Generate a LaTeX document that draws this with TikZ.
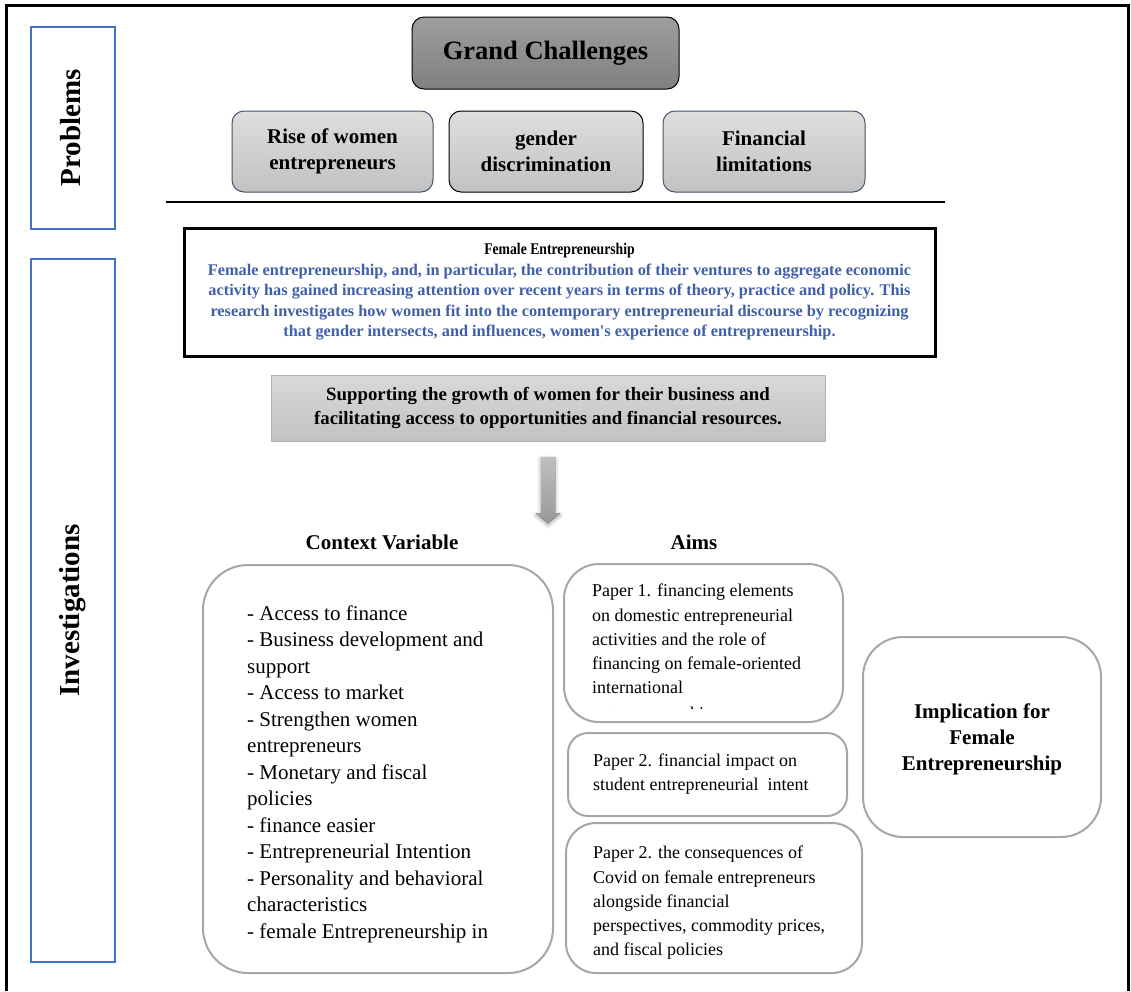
\documentclass[tikz,border=0pt]{standalone}
\usepackage{fontspec}
\setmainfont{Liberation Serif}
% same family without the TeX quote mapping, for a straight apostrophe
\newfontfamily\straightserif{Liberation Serif}
\usetikzlibrary{shadows.blur}

\definecolor{frameblue}{HTML}{4472C4}
\definecolor{textblue}{HTML}{3F5FA8}
\definecolor{roundgray}{HTML}{A6A6A6}
\definecolor{slateedge}{HTML}{44546A}

\tikzset{
  sidebox/.style={draw=frameblue, line width=2, rotate=90, inner sep=0,
    font=\fontsize{29}{34}\selectfont\bfseries},
  grandbox/.style={draw=black, line width=1, rounded corners=12,
    top color=black!38, bottom color=black!50, inner sep=0,
    font=\fontsize{26.5}{31}\selectfont\bfseries},
  probbox/.style={draw=slateedge, line width=1, rounded corners=12,
    top color=black!13, bottom color=black!24, inner sep=0, align=center,
    font=\fontsize{21}{26}\selectfont\bfseries},
  framebox/.style={draw=black, line width=3, inner sep=0, align=center,
    font=\fontsize{16.3}{20.5}\selectfont\bfseries},
  supportbox/.style={draw=black!30, line width=1, top color=black!15,
    bottom color=black!24, inner sep=0, align=center,
    font=\fontsize{18.8}{24}\selectfont\bfseries},
  roundbox/.style={draw=roundgray, line width=2, inner sep=0},
  heading/.style={inner sep=0, font=\fontsize{21}{26}\selectfont\bfseries},
  listtext/.style={inner sep=0, anchor=north west, align=left,
    font=\fontsize{21}{26.5}\selectfont},
  papertext/.style={inner sep=0, anchor=north west, align=left,
    font=\fontsize{18}{24.2}\selectfont},
  blockarrow/.style={draw=none, top color=black!25, bottom color=black!40,
    blur shadow={shadow xshift=0pt, shadow yshift=-2pt,
      shadow blur radius=4pt, shadow opacity=40}},
}

\begin{document}
\begin{tikzpicture}[x=1pt,y=-1pt]
\useasboundingbox (0,0) rectangle (1131,991);

% outer frame, open at the bottom
\coordinate (fbl) at (6,991);
\coordinate (ftl) at (6,5);
\coordinate (ftr) at (1128,5);
\coordinate (fbr) at (1128,991);
\draw[line width=3] (fbl) -- (ftl) -- (ftr) -- (fbr);

% side labels
\node[sidebox, minimum width=202, minimum height=84] (problems) at (73,128)
  {\raisebox{6pt}{Problems}};
\node[sidebox, minimum width=703, minimum height=84] (investigations) at (73,610.5)
  {\raisebox{6pt}{Investigations}};

% grand challenges and the three problems
\node[grandbox, minimum width=267, minimum height=72] (grand) at (545.5,53)
  {\raisebox{6pt}{Grand Challenges}};
\node[probbox, minimum width=201, minimum height=81] (rise) at (332.5,151.5) {Rise of women\\entrepreneurs};
\node[probbox, draw=black, minimum width=194, minimum height=81] (gender) at (546,151.5) {gender\\discrimination};
\node[probbox, minimum width=202, minimum height=81] (financial) at (764,151.5) {Financial\\limitations};

% separator between problems and investigations
\coordinate (sepl) at (166,202);
\coordinate (sepr) at (945,202);
\draw[line width=2] (sepl) -- (sepr);

% female entrepreneurship summary
\node[framebox, minimum width=751, minimum height=128] (female) at (559.5,292)
  {\scalebox{0.84}[1]{Female Entrepreneurship}\\
   \color{textblue}Female entrepreneurship, and, in particular, the contribution of their ventures to aggregate economic\\
   \color{textblue}activity has gained increasing attention over recent years in terms of theory, practice and policy. This\\
   \color{textblue}research investigates how women fit into the contemporary entrepreneurial discourse by recognizing\\
   \color{textblue}that gender intersects, and influences, women{\straightserif\bfseries '}s experience of entrepreneurship.};

\node[supportbox, minimum width=554, minimum height=66] (support) at (548,408)
  {Supporting the growth of women for their business and\\
   facilitating access to opportunities and financial resources.};

% down block arrow under the support box
\fill[blockarrow] (541,457) -- (555,457) -- (555,513) -- (560,513) -- (548,523)
  -- (536,513) -- (541,513) -- cycle;

% column headings
\node[heading] (ctxhead) at (382,542) {Context Variable};
\node[heading] (aimshead) at (694,542) {Aims};

% context variables
\node[roundbox, rounded corners=45, minimum width=350, minimum height=408] (ctx) at (378,769) {};
\node[listtext] (ctxtext) at (247,605)
  {- Access to finance\\
   - Business development and\\
   support\\
   - Access to market\\
   - Strengthen women\\
   entrepreneurs\\
   - Monetary and fiscal\\
   policies\\
   - finance easier\\
   - Entrepreneurial Intention\\
   - Personality and behavioral\\
   characteristics\\
   - female Entrepreneurship in};

% aims
\node[roundbox, rounded corners=35, minimum width=279, minimum height=158] (paper1) at (703.5,643) {};
\node[papertext] (paper1text) at (592,584)
  {Paper 1. financing elements\\
   on domestic entrepreneurial\\
   activities and the role of\\
   financing on female-oriented\\
   international};
\begin{scope}
  \clip (566,700) rectangle (840,708.5);
  \node[papertext] (paper1more) at (592,706.5) {entrepreneurship};
\end{scope}

\node[roundbox, rounded corners=20, minimum width=279, minimum height=83] (paper2) at (707.5,774.5) {};
\node[papertext] (paper2text) at (593,753.5)
  {Paper 2. financial impact on\\
   student entrepreneurial\ \ intent};

\node[roundbox, rounded corners=30, minimum width=296, minimum height=150] (paper3) at (714,898) {};
\node[papertext] (paper3text) at (593,846)
  {Paper 2. the consequences of\\
   Covid on female entrepreneurs\\
   alongside financial\\
   perspectives, commodity prices,\\
   and fiscal policies};

% implication
\node[roundbox, rounded corners=40, minimum width=238, minimum height=200, align=center,
  font=\fontsize{21}{26}\selectfont\bfseries] (impl) at (982,737)
  {\\[-6pt]Implication for\\Female\\Entrepreneurship};

\end{tikzpicture}
\end{document}
